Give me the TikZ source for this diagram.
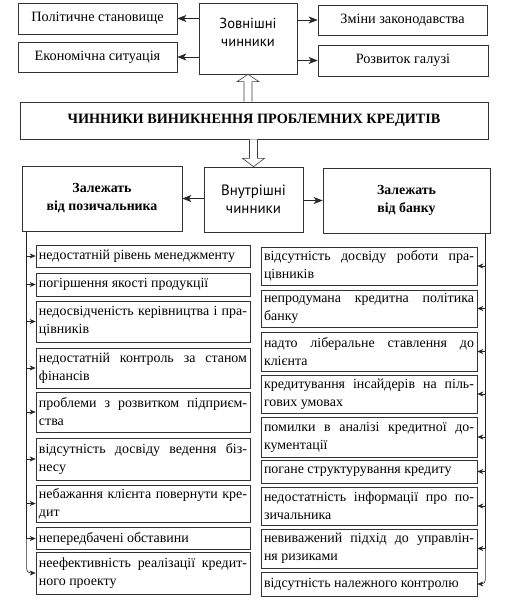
\documentclass[tikz,border=0pt]{standalone}
\usepackage{fontspec}
\setmainfont{Liberation Serif}
\newfontfamily\sansf{PT Sans}
\usetikzlibrary{arrows.meta,calc}
\newcommand\mytol{\tolerance 9999\relax\emergencystretch 20pt\relax\hbadness 10000\relax}
\begin{document}
\begin{tikzpicture}[x=1bp,y=-1bp,
  box/.style={draw=black!80, line width=0.7bp, inner sep=0pt,
    font=\fontsize{14}{18}\selectfont\mytol},
  itemL/.style={box, minimum width=214bp, text width=208bp, align=justify},
  itemR/.style={box, minimum width=216bp, text width=210bp, align=justify},
  arrbig/.style={draw=black!85, line width=0.6bp, -{Stealth[length=9bp,width=7bp,inset=2.5bp]}},
  arrsm/.style={draw=black!85, line width=0.6bp, -{Stealth[length=6bp,width=5bp,inset=2bp]}},
  trunk/.style={draw=black!85, line width=0.6bp},
  hollow/.style={draw=black!75, line width=0.6bp, fill=white}]
\useasboundingbox (0,0) rectangle (520,600);
\fill[white] (0,0) rectangle (520,600);

% top level
\node[box, minimum width=159bp, minimum height=31bp, font=\fontsize{14.3}{18}\selectfont] (pol) at (97.5,18.5) {Політичне становище};
\node[box, minimum width=159bp, minimum height=30bp, font=\fontsize{14.3}{18}\selectfont] (eco) at (97.5,57) {Економічна ситуація};
\node[box, minimum width=98bp, minimum height=71bp, align=center, font=\sansf\fontsize{14.6}{18}\selectfont] (zov) at (248,38.5) {Зовнішні\\чинники\\[-6pt]\mbox{}};
\node[box, minimum width=169bp, minimum height=30bp, font=\fontsize{14.3}{18}\selectfont] (zak) at (402.5,20) {Зміни законодавства};
\node[box, minimum width=170bp, minimum height=31bp, font=\fontsize{14.3}{18}\selectfont] (roz) at (403,60.5) {Розвиток галузі};

\draw[arrbig] (zov.west |- pol.east) -- (pol.east);
\draw[arrbig] (zov.west |- eco.east) -- (eco.east);
\draw[arrbig] (zov.east |- zak.west) -- (zak.west);
\draw[arrbig] (zov.east |- roz.west) -- (roz.west);

% title
\node[box, minimum width=468bp, minimum height=37bp, font=\bfseries\fontsize{14.3}{17}\selectfont] (title) at (254,120.5) {ЧИННИКИ ВИНИКНЕННЯ ПРОБЛЕМНИХ КРЕДИТІВ};

% second level
\node[box, minimum width=160bp, minimum height=65bp, align=center, font=\bfseries\fontsize{13.9}{18}\selectfont] (zp) at (102,198.5) {Залежать\\від позичальника};
\node[box, minimum width=99bp, minimum height=65bp, align=center, font=\sansf\fontsize{15}{18}\selectfont] (vnu) at (253.5,199.5) {Внутрішні\\чинники};
\node[box, minimum width=167bp, minimum height=65bp, align=center, font=\bfseries\fontsize{13.9}{18}\selectfont] (zb) at (406.5,200.5) {Залежать\\від банку};

\draw[arrbig] (vnu.west |- zp.east) -- (zp.east);
\draw[arrbig] (vnu.east |- zb.west) -- (zb.west);

% hollow arrows
\coordinate (ub) at (title.north -| zov.south);
\draw[hollow] ($(ub)+(-4,0)$) -- ($(ub)+(-4,-20)$) -- ($(ub)+(-11,-20)$) -- (zov.south)
  -- ($(ub)+(11,-20)$) -- ($(ub)+(4,-20)$) -- ($(ub)+(4,0)$);
\coordinate (db) at (title.south -| vnu.north);
\draw[hollow] ($(db)+(-4,0)$) -- ($(db)+(-4,19)$) -- ($(db)+(-11,19)$) -- (vnu.north)
  -- ($(db)+(11,19)$) -- ($(db)+(4,19)$) -- ($(db)+(4,0)$);

% left items
\node[itemL, minimum height=22bp] (l1) at (143,256) {недостатній рівень менеджменту};
\node[itemL, minimum height=23bp] (l2) at (143,284.5) {погіршення якості продукції};
\node[itemL, minimum height=41bp] (l3) at (143,321.5) {недосвідченість керівництва і пра-\linebreak цівників};
\node[itemL, minimum height=40bp] (l4) at (143,368) {недостатній контроль за станом\linebreak фінансів};
\node[itemL, minimum height=40bp] (l5) at (143,412) {проблеми з розвитком підприєм-\linebreak ства};
\node[itemL, minimum height=42bp] (l6) at (143,459) {відсутність досвіду ведення біз-\linebreak несу};
\node[itemL, minimum height=37bp] (l7) at (143,503.5) {небажання клієнта повернути кре-\linebreak дит};
\node[itemL, minimum height=22bp] (l8) at (143,538.5) {непередбачені обставини};
\node[itemL, minimum height=42bp] (l9) at (143,573) {неефективність реалізації кредит-\linebreak ного проекту};

% right items
\node[itemR, minimum height=38bp] (r1) at (369,266) {відсутність досвіду роботи пра-\linebreak цівників};
\node[itemR, minimum height=37bp] (r2) at (369,308.5) {непродумана кредитна політика\linebreak банку};
\node[itemR, minimum height=39bp] (r3) at (369,351.5) {надто ліберальне ставлення до\linebreak клієнта};
\node[itemR, minimum height=38bp] (r4) at (369,394) {кредитування інсайдерів на піль-\linebreak гових умовах};
\node[itemR, minimum height=40bp] (r5) at (369,437) {помилки в аналізі кредитної до-\linebreak кументації};
\node[itemR, minimum height=23bp] (r6) at (369,471.5) {погане структурування кредиту};
\node[itemR, minimum height=38bp] (r7) at (369,506) {недостатність інформації про по-\linebreak зичальника};
\node[itemR, minimum height=39bp] (r8) at (369,548.5) {невиважений підхід до управлін-\linebreak ня ризиками};
\node[itemR, minimum height=24bp] (r9) at (369,584) {відсутність належного контролю};

% trunks
\coordinate (tl) at ([xshift=5bp]zp.south west);
\coordinate (tr) at ([xshift=-5bp]zb.south east);
\draw[trunk] (tl) -- (tl |- l8.west);
\draw[arrsm, rounded corners=4bp] (tl |- l8.west) |- (l9.west);
\foreach \i in {1,...,8} \draw[arrsm] (tl |- l\i.west) -- (l\i.west);
\draw[trunk] (tr) -- (tr |- r8.east);
\draw[arrsm, rounded corners=4bp] (tr |- r8.east) |- (r9.east);
\foreach \i in {1,...,8} \draw[arrsm] (tr |- r\i.east) -- (r\i.east);
\end{tikzpicture}
\end{document}
